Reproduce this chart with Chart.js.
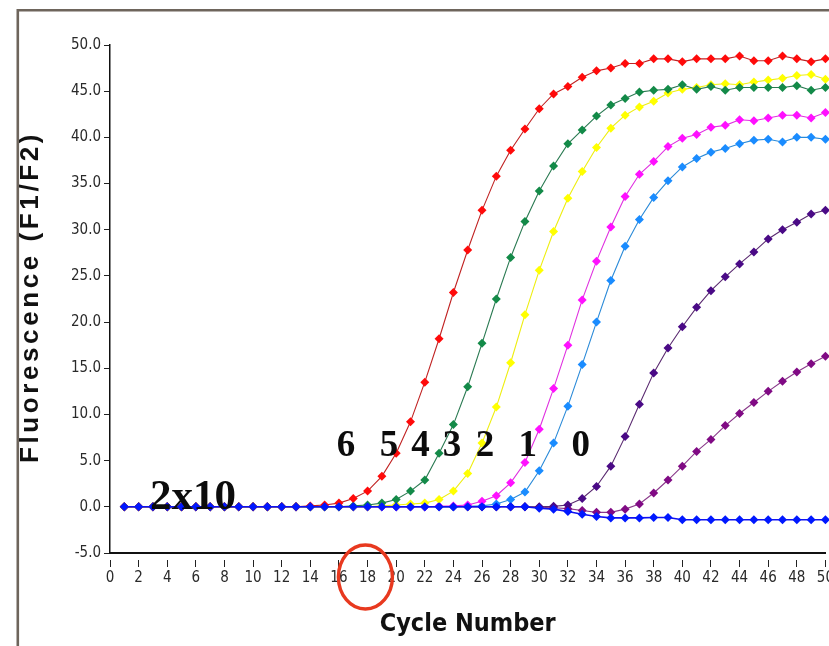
<!DOCTYPE html>
<html><head><meta charset="utf-8">
<script src="https://cdn.jsdelivr.net/npm/chart.js@4/dist/chart.umd.min.js"></script>
<style>html,body{margin:0;padding:0;background:#fff;overflow:hidden}#wrap{position:relative;width:829px;height:646px;overflow:hidden}canvas{display:block}</style>
</head><body><div id="wrap"><canvas id="c" width="836" height="646"></canvas></div>
<script>
// ---- data ----
const cycles = [1,2,3,4,5,6,7,8,9,10,11,12,13,14,15,16,17,18,19,20,21,22,23,24,25,26,27,28,29,30,31,32,33,34,35,36,37,38,39,40,41,42,43,44,45,46,47,48,49,50];
const seriesNames = ['negative','6','5','4','3','2','1','0'];
const negControl = [0,0,0,0,0,0,0,0,0,0,0,0,0,0,0,0,0,0,0,0,0,0,0,0,0,0,0,0,0,-0.15,-0.25,-0.5,-0.8,-1.05,-1.2,-1.2,-1.2,-1.15,-1.15,-1.4,-1.4,-1.4,-1.4,-1.4,-1.4,-1.4,-1.4,-1.4,-1.4,-1.4];
const sample6 = [0,0,0,0,0,0,0,0,0,0,0,0,0,0.1,0.2,0.4,0.9,1.7,3.3,5.8,9.2,13.5,18.2,23.2,27.8,32.1,35.8,38.6,40.9,43.1,44.7,45.5,46.5,47.2,47.5,48.0,48.0,48.5,48.5,48.2,48.5,48.5,48.5,48.8,48.3,48.3,48.8,48.5,48.2,48.5];
const sample5 = [0,0,0,0,0,0,0,0,0,0,0,0,0,0,0,0,0.1,0.2,0.4,0.8,1.7,2.9,5.8,8.9,13.0,17.7,22.5,27.0,30.9,34.2,36.9,39.3,40.8,42.3,43.5,44.2,44.9,45.1,45.2,45.7,45.2,45.5,45.1,45.4,45.4,45.4,45.4,45.6,45.1,45.4];
const sample4 = [0,0,0,0,0,0,0,0,0,0,0,0,0,0,0,0,0,0,0.1,0.2,0.3,0.4,0.8,1.7,3.6,6.9,10.8,15.6,20.8,25.6,29.8,33.4,36.3,38.9,41.0,42.4,43.3,43.9,44.8,45.2,45.4,45.7,45.8,45.7,46.0,46.2,46.4,46.7,46.8,46.3];
const sample3 = [0,0,0,0,0,0,0,0,0,0,0,0,0,0,0,0,0,0,0,0,0,0,0.05,0.1,0.2,0.6,1.2,2.6,4.8,8.4,12.8,17.5,22.4,26.6,30.3,33.6,36.0,37.4,39.0,39.9,40.3,41.1,41.3,41.9,41.8,42.1,42.4,42.4,42.1,42.7];
const sample2 = [0,0,0,0,0,0,0,0,0,0,0,0,0,0,0,0,0,0,0,0,0,0,0,0,0.05,0.1,0.3,0.8,1.6,3.9,6.9,10.9,15.4,20.0,24.5,28.2,31.1,33.5,35.3,36.8,37.7,38.4,38.8,39.3,39.7,39.8,39.5,40.0,40.0,39.8];
const sample1 = [0,0,0,0,0,0,0,0,0,0,0,0,0,0,0,0,0,0,0,0,0,0,0,0,0,0,0,0,0,0,0.05,0.2,0.9,2.2,4.4,7.6,11.1,14.5,17.2,19.5,21.6,23.4,24.9,26.3,27.6,29.0,30.0,30.8,31.7,32.1];
const sample0 = [0,0,0,0,0,0,0,0,0,0,0,0,0,0,0,0,0,0,0,0,0,0,0,0,0,0,0,0,0,-0.05,-0.1,-0.2,-0.4,-0.6,-0.6,-0.25,0.3,1.5,2.9,4.4,6.0,7.3,8.8,10.1,11.3,12.5,13.6,14.6,15.5,16.3];
const xTickValues = [0,2,4,6,8,10,12,14,16,18,20,22,24,26,28,30,32,34,36,38,40,42,44,46,48,50];
const yTickValues = [-5,0,5,10,15,20,25,30,35,40,45,50];
const dilutionLabels = ['6','5','4','3','2','1','0'];
const startLabel = '2x10';

// ---- styles ----
const NARROW = "'Liberation Sans Narrow','DejaVu Sans Condensed','Arial Narrow','Liberation Sans',sans-serif";
const styles = [
  {line:'#1010f0', point:'#0018ff'},
  {line:'#c02222', point:'#ff0a0a'},
  {line:'#2a7a52', point:'#138a48'},
  {line:'#eeee10', point:'#ffff00'},
  {line:'#e030e0', point:'#ff10ff'},
  {line:'#2a8ad8', point:'#1a8cff'},
  {line:'#5a2a70', point:'#4a0a86'},
  {line:'#8a3a8a', point:'#800a84'}
];
const seriesData = [negControl, sample6, sample5, sample4, sample3, sample2, sample1, sample0];

const datasets = seriesData.map((arr, i) => ({
  label: seriesNames[i],
  data: cycles.map((c, k) => ({x: c, y: arr[k]})),
  borderColor: styles[i].line,
  backgroundColor: styles[i].point,
  pointBackgroundColor: styles[i].point,
  pointBorderWidth: 0,
  pointStyle: 'rectRot',
  pointRadius: 4.5,
  borderWidth: i === 0 ? 1.6 : 1.1,
  tension: 0,
  clip: false
}));

const decor = {
  id: 'decor',
  beforeDraw(chart) {
    const ctx = chart.ctx;
    ctx.save();
    ctx.strokeStyle = '#6e655c';
    ctx.lineWidth = 2.6;
    ctx.beginPath();
    ctx.moveTo(17.8, 646);
    ctx.lineTo(17.8, 10.3);
    ctx.lineTo(836, 10.3);
    ctx.stroke();
    ctx.restore();
  },
  afterDraw(chart) {
    const ctx = chart.ctx;
    const xs = chart.scales.x, ys = chart.scales.y;
    ctx.save();
    // y axis title
    ctx.translate(31, (chart.chartArea.top + chart.chartArea.bottom) / 2);
    ctx.rotate(-Math.PI / 2);
    ctx.font = "bold 26px 'Liberation Sans', Arial, sans-serif";
    try { ctx.letterSpacing = '3.6px'; } catch (e) {}
    ctx.fillStyle = '#111';
    ctx.textAlign = 'center';
    ctx.textBaseline = 'middle';
    ctx.fillText('Fluorescence (F1/F2)', 2, 0);
    ctx.restore();

    ctx.save();
    try { ctx.letterSpacing = '0px'; } catch (e) {}
    ctx.fillStyle = '#0c0c0c';
    ctx.textAlign = 'center';
    ctx.textBaseline = 'middle';
    ctx.font = "bold 37px 'Liberation Serif','Times New Roman',serif";
    const annX = [16.5, 19.5, 21.7, 23.9, 26.2, 29.2, 32.9];
    dilutionLabels.forEach((t, i) => {
      ctx.fillText(t, xs.getPixelForValue(annX[i]), ys.getPixelForValue(6.5));
    });
    ctx.font = "bold 43px 'Liberation Serif','Times New Roman',serif";
    ctx.fillText(startLabel, xs.getPixelForValue(5.8), ys.getPixelForValue(0.95));
    // red circle around cycle 18
    ctx.strokeStyle = '#e8391f';
    ctx.lineWidth = 3.4;
    ctx.beginPath();
    ctx.ellipse(xs.getPixelForValue(17.85), xs.top + 24, 27, 32, 0, 0, Math.PI * 2);
    ctx.stroke();
    ctx.restore();
  }
};

new Chart(document.getElementById('c'), {
  type: 'line',
  data: {datasets},
  plugins: [decor],
  options: {
    responsive: false,
    animation: false,
    devicePixelRatio: 1,
    layout: {padding: {top: 45, right: 0, left: 0, bottom: 0}},
    plugins: {legend: {display: false}, tooltip: {enabled: false}},
    scales: {
      x: {
        type: 'linear', min: 0, max: 50,
        afterBuildTicks(s) { s.ticks = xTickValues.map(v => ({value: v})); },
        ticks: {autoSkip: false, maxRotation: 0, font: {family: NARROW, size: 15}, color: '#2a2a2a', padding: 2},
        grid: {drawOnChartArea: false, tickLength: 14, tickBorderDash: [0, 6, 7, 100], tickColor: '#222', tickWidth: 1},
        border: {color: '#111', width: 2},
        title: {display: true, text: 'Cycle Number', color: '#111', font: {family: NARROW, size: 25, weight: 'bold'}, padding: {top: 0, bottom: 7}},
        afterFit(s) { s.height = 93; }
      },
      y: {
        min: -5, max: 50,
        afterBuildTicks(s) { s.ticks = yTickValues.map(v => ({value: v})); },
        ticks: {callback: v => Number(v).toFixed(1), font: {family: NARROW, size: 15}, color: '#2a2a2a', padding: 1},
        grid: {drawOnChartArea: false, tickLength: 8, tickBorderDash: [0, 2, 5, 100], tickColor: '#222', tickWidth: 1},
        border: {color: '#111', width: 1.5},
        afterFit(s) { s.width = 110; }
      }
    }
  }
});
</script></body></html>
